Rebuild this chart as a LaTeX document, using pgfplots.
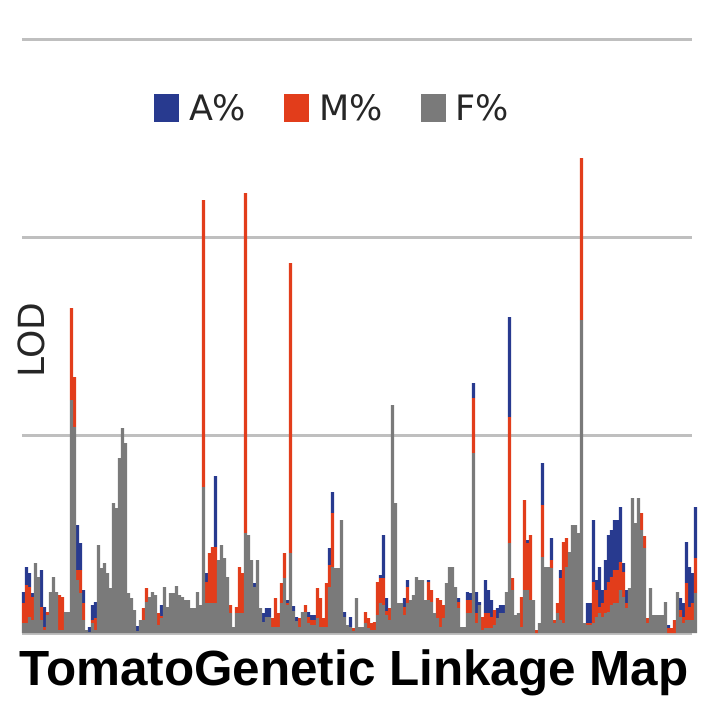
\documentclass[border=0pt]{standalone}
\usepackage{fontspec}
\usepackage{pgfplots}
\usepackage{pgfplotstable}
\pgfplotsset{compat=1.18}
\setmainfont{Liberation Sans}
\newfontfamily\dejavu{DejaVu Sans}
\definecolor{colA}{HTML}{283A8F}
\definecolor{colM}{HTML}{E23D1B}
\definecolor{colF}{HTML}{7A7A7A}
\pgfplotstableread{
k F M A
0 10 20 11
1 10 38 18
2 16 30 14
3 13 23 4
4 70 0 0
5 56 0 0
6 13 13 37
7 3 3 20
8 18 3 0
9 41 0 0
10 56 0 0
11 41 0 0
12 3 35 0
13 3 33 0
14 21 0 0
15 21 0 0
16 233 92 0
17 206 50 0
18 53 10 45
19 40 23 27
20 13 17 13
21 3 0 0
22 1 0 5
23 10 3 15
24 3 12 16
25 88 0 0
26 65 0 0
27 70 0 0
28 60 0 0
29 45 0 0
30 130 0 0
31 125 0 0
32 175 0 0
33 205 0 0
34 190 0 0
35 40 0 0
36 35 0 0
37 23 0 0
38 2 0 5
39 13 0 0
40 13 12 0
41 31 14 0
42 36 0 0
43 41 0 0
44 38 0 0
45 8 12 0
46 15 2 11
47 46 0 0
48 26 0 0
49 40 0 0
50 40 0 0
51 47 0 0
52 38 0 0
53 36 0 0
54 33 0 0
55 33 0 0
56 25 0 0
57 25 0 0
58 41 0 0
59 28 0 0
60 146 287 0
61 30 21 9
62 30 50 0
63 30 56 0
64 30 56 71
65 73 0 0
66 88 0 0
67 75 0 0
68 56 0 0
69 20 8 0
70 6 0 0
71 20 6 0
72 20 46 0
73 20 40 0
74 100 340 0
75 98 0 0
76 73 0 0
77 46 0 4
78 73 0 0
79 25 0 0
80 11 0 9
81 16 0 9
82 16 0 9
83 6 9 0
84 6 29 0
85 6 14 0
86 30 20 0
87 55 25 0
88 28 2 3
89 80 290 0
90 22 0 5
91 12 0 4
92 6 9 0
93 21 0 0
94 21 7 0
95 10 6 5
96 8 5 5
97 8 5 5
98 15 30 0
99 6 29 0
100 6 9 0
101 6 44 0
102 46 22 17
103 66 54 21
104 65 0 0
105 65 0 0
106 113 0 0
107 16 0 5
108 8 0 0
109 6 0 10
110 2 3 0
111 35 0 0
112 6 0 0
113 6 0 0
114 10 11 0
115 5 10 0
116 3 7 0
117 3 8 0
118 18 33 0
119 30 25 3
120 28 27 43
121 18 4 13
122 13 12 0
123 228 0 0
124 130 0 0
125 30 0 0
126 30 0 0
127 18 8 9
128 30 16 7
129 33 0 0
130 38 0 0
131 56 0 0
132 53 0 0
133 53 0 0
134 33 0 0
135 33 18 2
136 31 12 0
137 20 0 0
138 15 20 0
139 6 27 0
140 15 13 0
141 50 0 0
142 66 0 0
143 66 0 0
144 46 0 0
145 25 6 4
146 6 0 0
147 6 0 0
148 20 13 8
149 20 13 7
150 180 55 15
151 10 10 21
152 28 0 3
153 3 13 0
154 5 15 33
155 5 15 23
156 5 11 17
157 8 15 0
158 15 0 10
159 20 0 8
160 20 0 8
161 41 0 0
162 90 126 100
163 43 12 0
164 18 0 0
165 20 0 0
166 6 30 0
167 43 90 0
168 43 47 3
169 33 65 0
170 33 0 0
171 0 3 0
172 10 0 0
173 76 52 42
174 66 0 0
175 66 0 0
176 65 8 22
177 10 3 0
178 20 10 0
179 13 42 8
180 10 81 0
181 66 29 0
182 81 0 0
183 108 0 0
184 108 0 0
185 100 0 0
186 313 162 0
187 10 0 0
188 8 2 20
189 8 2 20
190 10 41 62
191 16 27 10
192 20 6 40
193 16 14 13
194 20 23 30
195 21 30 47
196 28 28 47
197 30 33 50
198 30 33 50
199 43 28 55
200 36 25 9
201 25 5 13
202 45 0 0
203 135 0 0
204 110 0 0
205 135 0 0
206 103 17 0
207 85 12 0
208 10 5 0
209 45 0 0
210 18 0 0
211 18 0 0
212 18 0 0
213 18 0 0
214 31 0 0
215 0 5 3
216 0 5 0
217 0 13 0
218 41 0 0
219 16 7 12
220 10 6 14
221 13 37 41
222 13 13 40
223 13 17 30
224 40 35 51
}\data
\begin{document}
\begin{tikzpicture}
\path[use as bounding box] (-11pt,-38pt) rectangle (343.5pt,316.5pt);
\begin{axis}[
  width=335pt, height=300pt, scale only axis,
  xmin=-0.5, xmax=222.83, ymin=0, ymax=600,
  ybar stacked, bar width=1.05,
  xtick=\empty, ytick={0,198,396,594}, yticklabels={},
  ymajorgrids, grid style={line width=1.5pt, draw=black!25},
  axis line style={draw=none}, major tick style={draw=none},
  clip=false,
  ylabel={LOD},
  ylabel style={at={(axis description cs:0.034,0.488)}, anchor=base, font=\dejavu\fontsize{18}{20}\selectfont, color=black!85},
  title={TomatoGenetic Linkage Map},
  title style={at={(axis description cs:0.4955,-0.108)}, anchor=base, font=\bfseries\fontsize{24.7}{28}\selectfont},
  legend columns=3,
  legend style={at={(0.465,0.873)}, anchor=center, draw=none, fill=none,
    font=\dejavu\fontsize{17.5}{20}\selectfont, text=black!85,
    /tikz/every odd column/.append style={column sep=3pt},
    /tikz/every even column/.append style={column sep=17pt}},
  legend image code/.code={\fill[#1] (0pt,-6.5pt) rectangle (12.5pt,7.5pt);},
]
\addplot[fill=colF, draw=none, forget plot] table[x=k, y=F]{\data};
\addplot[fill=colM, draw=none, forget plot] table[x=k, y=M]{\data};
\addplot[fill=colA, draw=none, forget plot] table[x=k, y=A]{\data};
\addlegendimage{fill=colA, draw=none}
\addlegendentry{A\%}
\addlegendimage{fill=colM, draw=none}
\addlegendentry{M\%}
\addlegendimage{fill=colF, draw=none}
\addlegendentry{F\%}
\end{axis}
\end{tikzpicture}
\end{document}
